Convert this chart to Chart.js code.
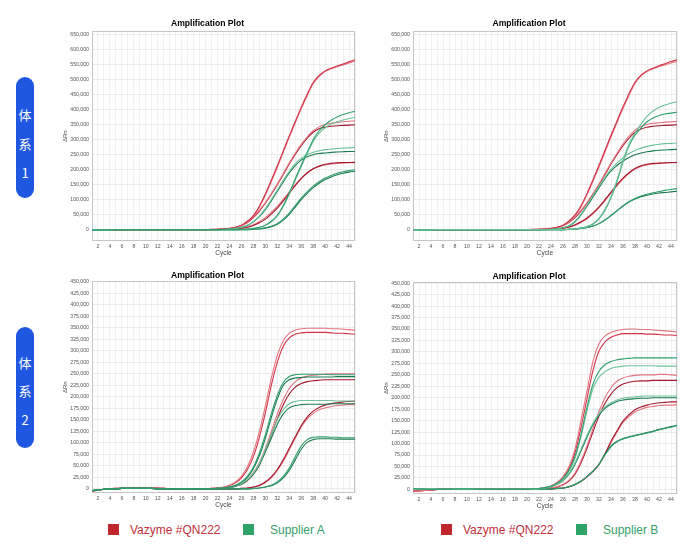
<!DOCTYPE html>
<html><head><meta charset="utf-8">
<script src="https://cdn.jsdelivr.net/npm/chart.js@4/dist/chart.umd.min.js"></script>
<style>
body{margin:0;width:700px;height:550px;background:#fff;position:relative;overflow:hidden;font-family:"Liberation Sans",Arial,sans-serif}
canvas{position:absolute}
.pill{position:absolute;left:16px;width:18px;height:121px;background:#1f57e0;border-radius:9px;color:#fff;font-family:"Noto Sans CJK SC",sans-serif;font-size:13px}
.pill span{position:absolute;left:0;width:18px;text-align:center;line-height:14px}
.lg{position:absolute;font-size:12px;line-height:14px;white-space:nowrap}
.sq{position:absolute;width:11px;height:11px}
</style></head>
<body>
<div class="pill" style="top:77px"><span style="top:31px">体</span><span style="top:60px">系</span><span style="top:89px">1</span></div>
<div class="pill" style="top:327px"><span style="top:29px">体</span><span style="top:57px">系</span><span style="top:86px">2</span></div>

<canvas id="c1" width="299" height="246" style="left:60px;top:12px"></canvas>
<canvas id="c2" width="300" height="246" style="left:381px;top:12px"></canvas>
<canvas id="c3" width="299" height="246" style="left:60px;top:264px"></canvas>
<canvas id="c4" width="300" height="246" style="left:381px;top:265px"></canvas>

<div class="sq" style="left:108px;top:524px;background:#c0272d"></div>
<div class="lg" style="left:130px;top:523px;color:#c0303a">Vazyme #QN222</div>
<div class="sq" style="left:243px;top:524px;background:#2ea468"></div>
<div class="lg" style="left:270px;top:523px;color:#35a06a">Supplier A</div>
<div class="sq" style="left:441px;top:524px;background:#c0272d"></div>
<div class="lg" style="left:463px;top:523px;color:#c0303a">Vazyme #QN222</div>
<div class="sq" style="left:576px;top:524px;background:#2ea468"></div>
<div class="lg" style="left:603px;top:523px;color:#35a06a">Supplier B</div>

<script>
// Cycle numbers (x axis)
const cycles = [1,2,3,4,5,6,7,8,9,10,11,12,13,14,15,16,17,18,19,20,21,22,23,24,25,26,27,28,29,30,31,32,33,34,35,36,37,38,39,40,41,42,43,44,45];
// y tick values (thousands of ΔRn)
const yTicksSys1 = [0,50,100,150,200,250,300,350,400,450,500,550,600,650];
const yTicksSys2 = [0,25,50,75,100,125,150,175,200,225,250,275,300,325,350,375,400,425,450];

// Values in thousands of ΔRn
// ---- Panel 1: system 1, Vazyme vs Supplier A ----
const p1_vz1 = [-3,-2,-2,-1,-1,-1,-1,0,0,0,0,0,0,0,0,0,0,0,0,0, 1,1,2,4,8,15,28,47,78,119,165,213,263,313,361,408,452,491,515,530,539,546,553,560,567];
const p1_vz2 = [-2,-2,-1,-1,-1,-1,0,0,0,0,0,0,0,0,0,0,0,0,0,0, 1,1,2,4,7,14,26,45,75,115,160,208,258,308,356,403,447,487,512,528,537,544,550,556,562];
const p1_vz3 = [-3,-2,-2,-1,-1,-1,-1,0,0,0,0,0,0,0,0,0,0,0,0,0, 0,1,2,4,7,14,25,42,64,90,120,152,187,222,255,285,310,330,343,351,355,358,360,362,363];
const p1_vz4 = [-2,-2,-1,-1,-1,-1,0,0,0,0,0,0,0,0,0,0,0,0,0,0, 0,1,2,3,7,13,24,40,62,88,118,150,184,219,251,280,305,325,337,342,345,347,348,349,350];
const p1_vz5 = [-3,-2,-2,-1,-1,-1,-1,0,0,0,0,0,0,0,0,0,0,0,0,0, 0,0,1,1,2,4,8,14,23,35,52,72,96,122,147,170,189,203,212,218,221,223,224,224,225];
const p1_vz6 = [-2,-2,-1,-1,-1,-1,0,0,0,0,0,0,0,0,0,0,0,0,0,0, 0,0,1,1,2,5,9,16,27,40,58,78,101,126,150,172,190,203,211,216,219,221,222,223,223];
const p1_sa1 = [-2,-1,-1,-1,0,0,0,0,0,0,0,0,0,0,0,0,0,0,0,0, 0,0,0,0,0,1,2,4,8,15,28,48,80,122,170,215,258,300,330,350,365,376,384,390,395];
const p1_sa2 = [-2,-1,-1,-1,0,0,0,0,0,0,0,0,0,0,0,0,0,0,0,0, 0,0,0,0,0,1,2,4,7,14,26,46,77,118,165,210,253,294,322,340,352,360,366,371,375];
const p1_sa3 = [-2,-1,-1,-1,0,0,0,0,0,0,0,0,0,0,0,0,0,0,0,0, 0,0,1,2,4,8,15,27,45,70,100,132,165,195,220,238,250,258,263,267,269,271,272,273,274];
const p1_sa4 = [-2,-1,-1,-1,0,0,0,0,0,0,0,0,0,0,0,0,0,0,0,0, 0,0,1,2,4,8,14,26,43,67,96,127,159,189,214,232,243,250,254,256,258,259,260,261,261];
const p1_sa5 = [-2,-1,-1,-1,0,0,0,0,0,0,0,0,0,0,0,0,0,0,0,0, 0,0,0,0,0,0,0,1,3,6,11,20,35,55,80,105,126,145,160,172,181,188,193,197,200];
const p1_sa6 = [-2,-1,-1,-1,0,0,0,0,0,0,0,0,0,0,0,0,0,0,0,0, 0,0,0,0,0,0,0,1,2,5,10,18,32,51,75,100,121,140,155,167,176,183,188,192,195];

// ---- Panel 2: system 1, Vazyme vs Supplier B ----
const p2_vz1 = [-3,-2,-2,-1,-1,-1,-1,0,0,0,0,0,0,0,0,0,0,0,0,0, 1,1,2,4,8,15,29,49,80,121,167,215,265,315,363,410,454,492,516,530,539,547,554,561,567];
const p2_vz2 = [-2,-2,-1,-1,-1,-1,0,0,0,0,0,0,0,0,0,0,0,0,0,0, 1,1,2,4,7,14,27,46,76,116,161,209,259,309,357,404,448,488,513,528,537,544,550,556,561];
const p2_vz3 = [-3,-2,-2,-1,-1,-1,-1,0,0,0,0,0,0,0,0,0,0,0,0,0, 0,1,2,4,7,14,25,42,64,90,120,152,187,222,255,286,312,332,344,351,355,357,359,360,361];
const p2_vz4 = [-2,-2,-1,-1,-1,-1,0,0,0,0,0,0,0,0,0,0,0,0,0,0, 0,1,2,3,7,13,24,40,62,88,118,150,184,219,251,280,305,325,336,342,345,347,348,349,350];
const p2_vz5 = [-3,-2,-2,-1,-1,-1,-1,0,0,0,0,0,0,0,0,0,0,0,0,0, 0,0,1,1,2,5,9,16,26,39,56,76,100,125,150,172,190,204,213,218,221,222,223,224,224];
const p2_vz6 = [-2,-2,-1,-1,-1,-1,0,0,0,0,0,0,0,0,0,0,0,0,0,0, 0,0,1,1,2,4,8,14,24,36,53,73,97,122,147,169,188,202,211,216,219,221,222,223,223];
const p2_sb1 = [-2,-1,-1,-1,0,0,0,0,0,0,0,0,0,0,0,0,0,0,0,0, 0,0,0,0,0,0,1,2,5,10,20,38,68,110,165,230,285,322,352,378,396,408,416,422,427];
const p2_sb2 = [-2,-1,-1,-1,0,0,0,0,0,0,0,0,0,0,0,0,0,0,0,0, 0,0,0,0,0,0,1,2,5,10,19,36,65,106,160,226,280,315,340,360,373,381,386,389,392];
const p2_sb3 = [-2,-1,-1,-1,0,0,0,0,0,0,0,0,0,0,0,0,0,0,0,0, 0,0,0,1,3,6,13,28,52,82,114,145,175,201,222,240,254,264,272,278,282,285,287,288,289];
const p2_sb4 = [-2,-1,-1,-1,0,0,0,0,0,0,0,0,0,0,0,0,0,0,0,0, 0,0,0,1,3,6,12,26,49,78,109,140,170,196,214,229,241,250,256,260,263,265,266,267,268];
const p2_sb5 = [-2,-1,-1,-1,0,0,0,0,0,0,0,0,0,0,0,0,0,0,0,0, 0,0,0,0,0,0,1,2,4,7,12,20,32,47,63,79,93,104,112,118,123,127,131,134,137];
const p2_sb6 = [-2,-1,-1,-1,0,0,0,0,0,0,0,0,0,0,0,0,0,0,0,0, 0,0,0,0,0,0,1,2,4,7,12,20,32,47,63,79,92,102,110,115,119,122,124,126,128];

// ---- Panel 3: system 2, Vazyme vs Supplier A ----
const p3_vz1 = [-5,-3,-1,0,1,1,1,2,2,2,1,1,0,0,0,0,0,0,0,0, 1,2,4,8,15,27,48,80,125,180,240,290,322,338,345,348,349,349,349,349,348,348,347,346,345];
const p3_vz2 = [-4,-3,-1,0,0,1,1,1,2,2,1,1,1,0,0,0,0,0,0,0, 1,2,3,7,13,24,42,70,112,165,225,275,310,328,336,339,340,340,340,340,339,338,338,337,336];
const p3_vz3 = [-5,-3,-1,0,1,1,1,2,2,2,1,1,0,0,0,0,0,0,0,0, 0,1,1,3,6,11,20,35,57,88,125,162,194,218,233,241,245,247,248,249,250,250,250,250,250];
const p3_vz4 = [-4,-3,-1,0,0,1,1,1,2,2,1,1,1,0,0,0,0,0,0,0, 0,1,1,3,6,10,18,32,52,82,117,152,183,206,221,229,233,235,236,237,237,237,237,237,237];
const p3_vz5 = [-5,-3,-1,0,1,1,1,2,2,2,1,1,0,0,0,0,0,0,0,0, 0,0,0,0,0,1,2,4,8,15,26,42,63,88,113,137,156,169,177,182,185,187,189,190,191];
const p3_vz6 = [-4,-3,-1,0,0,1,1,1,2,2,1,1,1,0,0,0,0,0,0,0, 0,0,0,0,0,1,2,4,7,14,24,40,60,85,110,134,152,164,172,176,179,181,182,183,183];
const p3_sa1 = [-4,-2,-1,0,0,1,1,1,1,1,1,0,0,0,0,0,0,0,0,0, 0,1,2,4,8,15,27,47,78,118,163,203,231,244,248,249,249,249,249,249,248,248,248,248,248];
const p3_sa2 = [-4,-2,-1,0,0,1,1,1,1,1,1,0,0,0,0,0,0,0,0,0, 0,1,2,4,7,14,25,44,72,110,155,195,225,237,241,242,243,243,243,243,243,244,244,244,244];
const p3_sa3 = [-4,-2,-1,0,0,1,1,1,1,1,1,0,0,0,0,0,0,0,0,0, 0,1,2,3,6,11,20,34,55,85,118,150,172,185,190,192,192,192,192,192,192,191,191,191,191];
const p3_sa4 = [-4,-2,-1,0,0,1,1,1,1,1,1,0,0,0,0,0,0,0,0,0, 0,1,2,3,6,10,19,32,52,80,110,140,163,176,181,183,184,184,184,184,185,185,185,185,185];
const p3_sa5 = [-4,-2,-1,0,0,1,1,1,1,1,1,0,0,0,0,0,0,0,0,0, 0,0,0,0,0,0,0,1,2,4,8,15,27,45,70,93,107,112,113,113,112,112,111,111,111];
const p3_sa6 = [-4,-2,-1,0,0,1,1,1,1,1,1,0,0,0,0,0,0,0,0,0, 0,0,0,0,0,0,0,1,2,4,7,13,24,40,63,86,101,107,109,109,109,108,108,108,108];

// ---- Panel 4: system 2, Vazyme vs Supplier B ----
const p4_vz1 = [-4,-3,-2,-1,0,0,1,1,1,2,2,1,1,0,0,0,0,0,0,0, 1,2,4,8,15,28,50,88,150,215,280,318,335,343,347,349,350,350,349,349,348,347,346,345,344];
const p4_vz2 = [-4,-3,-2,-1,0,0,1,1,1,2,2,1,1,0,0,0,0,0,0,0, 1,2,3,7,13,25,45,80,135,198,260,302,322,332,337,340,340,340,340,339,339,338,337,337,336];
const p4_vz3 = [-4,-3,-2,-1,0,0,1,1,1,2,2,1,1,0,0,0,0,0,0,0, 0,1,1,3,6,11,20,36,62,95,133,170,200,222,236,243,247,249,250,250,250,251,251,250,249];
const p4_vz4 = [-4,-3,-2,-1,0,0,1,1,1,2,2,1,1,0,0,0,0,0,0,0, 0,1,1,3,5,10,18,33,58,90,126,160,188,208,222,230,234,236,237,237,238,238,238,238,238];
const p4_vz5 = [-4,-3,-2,-1,0,0,1,1,1,2,2,1,1,0,0,0,0,0,0,0, 0,0,0,1,2,3,6,11,18,28,40,55,78,105,128,149,163,174,180,184,187,189,190,191,191];
const p4_vz6 = [-4,-3,-2,-1,0,0,1,1,1,2,2,1,1,0,0,0,0,0,0,0, 0,0,0,1,2,3,6,10,17,27,39,54,76,102,125,146,159,169,175,179,181,183,184,184,185];
const p4_sb1 = [2,1,1,0,0,0,0,1,1,1,1,0,0,0,0,0,0,0,0,0, 1,2,4,7,13,24,42,72,120,180,230,258,272,279,283,285,286,287,287,287,287,287,287,287,287];
const p4_sb2 = [2,1,1,0,0,0,0,1,1,1,1,0,0,0,0,0,0,0,0,0, 1,2,4,7,12,22,40,68,115,172,220,245,257,264,267,269,270,270,270,270,270,269,269,269,269];
const p4_sb3 = [2,1,1,0,0,0,0,1,1,1,1,0,0,0,0,0,0,0,0,0, 0,1,3,6,11,20,35,58,88,118,145,165,180,189,195,199,201,202,203,204,204,204,204,204,204];
const p4_sb4 = [2,1,1,0,0,0,0,1,1,1,1,0,0,0,0,0,0,0,0,0, 0,1,3,6,11,19,33,55,84,114,141,162,177,186,192,195,197,198,199,199,200,200,200,200,200];
const p4_sb5 = [2,1,1,0,0,0,0,1,1,1,1,0,0,0,0,0,0,0,0,0, 0,0,0,1,2,3,6,11,18,28,40,55,75,93,104,110,114,117,120,123,126,130,133,136,139];
const p4_sb6 = [2,1,1,0,0,0,0,1,1,1,1,0,0,0,0,0,0,0,0,0, 0,0,0,1,2,3,6,11,18,28,40,55,77,95,105,111,115,118,121,124,127,131,134,137,140];

const RD='#a3162c', RM='#cf3346', RL='#e4747f';
const GD='#1b7a50', GM='#2f9e6c', GL='#6cc39a';

function line(data,color){
  return {data:data,borderColor:color,borderWidth:1.1,pointRadius:0,fill:false,cubicInterpolationMode:'monotone'};
}
const frame={id:'frame',beforeDatasetsDraw(c){const a=c.chartArea,x=c.ctx;x.save();x.strokeStyle='#c6c6c6';x.lineWidth=1;x.strokeRect(Math.round(a.left)+0.5,Math.round(a.top)+0.5,Math.round(a.width)-1,Math.round(a.height)-1);x.restore();}};

function makeChart(id,sets,yMin,yMax,yTicks,titleBottom){
  new Chart(document.getElementById(id),{
    type:'line',
    data:{labels:cycles,datasets:sets},
    plugins:[frame],
    options:{
      responsive:false,animation:false,events:[],
      layout:{padding:{left:0,right:4,top:0,bottom:0}},
      plugins:{legend:{display:false},tooltip:{enabled:false},
        title:{display:true,text:'Amplification Plot',color:'#000',font:{family:'Liberation Sans',size:8.6,weight:'bold'},padding:{top:6,bottom:titleBottom}}},
      scales:{
        x:{type:'linear',min:1,max:45,afterFit:s=>{s.height=17;},
          afterBuildTicks:s=>{s.ticks=cycles.map(v=>({value:v}));},
          ticks:{autoSkip:false,maxRotation:0,minRotation:0,padding:2,color:'#555',font:{family:'Liberation Sans',size:5.2},callback:v=>(v%2===0?String(v):'')},
          grid:{color:'#eeeeee',drawTicks:false,lineWidth:0.8},border:{display:false},
          title:{display:true,text:'Cycle',color:'#444',font:{family:'Liberation Sans',size:6.5},padding:{top:0,bottom:1}}},
        y:{type:'linear',min:yMin,max:yMax,afterFit:s=>{s.width=32;},
          afterBuildTicks:s=>{s.ticks=yTicks.map(v=>({value:v}));},
          ticks:{padding:3,color:'#555',font:{family:'Liberation Sans',size:5.2},callback:v=>(v*1000).toLocaleString('en-US')},
          grid:{color:'#e6e6e6',drawTicks:false,lineWidth:0.8},border:{display:false},
          title:{display:true,text:'ΔRn',color:'#444',font:{family:'Liberation Sans',size:6},padding:{top:2,bottom:0}}}
      }
    }
  });
}

makeChart('c1',[
  line(p1_sa1,GM),line(p1_sa2,GL),line(p1_sa3,GL),line(p1_sa4,GD),line(p1_sa5,GM),line(p1_sa6,GD),
  line(p1_vz1,RM),line(p1_vz2,RL),line(p1_vz3,RL),line(p1_vz4,RD),line(p1_vz5,RD),line(p1_vz6,RL)
],-38,662,yTicksSys1,3);
makeChart('c2',[
  line(p2_sb1,GL),line(p2_sb2,GM),line(p2_sb3,GL),line(p2_sb4,GD),line(p2_sb5,GM),line(p2_sb6,GD),
  line(p2_vz1,RM),line(p2_vz2,RL),line(p2_vz3,RL),line(p2_vz4,RD),line(p2_vz5,RD),line(p2_vz6,RL)
],-38,662,yTicksSys1,3);
makeChart('c3',[
  line(p3_sa1,GM),line(p3_sa2,GD),line(p3_sa3,GL),line(p3_sa4,GD),line(p3_sa5,GM),line(p3_sa6,GD),
  line(p3_vz1,RL),line(p3_vz2,RM),line(p3_vz3,RL),line(p3_vz4,RD),line(p3_vz5,RD),line(p3_vz6,RL)
],-9,451,yTicksSys2,1);
makeChart('c4',[
  line(p4_sb1,GM),line(p4_sb2,GL),line(p4_sb3,GL),line(p4_sb4,GD),line(p4_sb5,GM),line(p4_sb6,GD),
  line(p4_vz1,RL),line(p4_vz2,RM),line(p4_vz3,RL),line(p4_vz4,RD),line(p4_vz5,RD),line(p4_vz6,RL)
],-10,452,yTicksSys2,1);
</script>
</body></html>
